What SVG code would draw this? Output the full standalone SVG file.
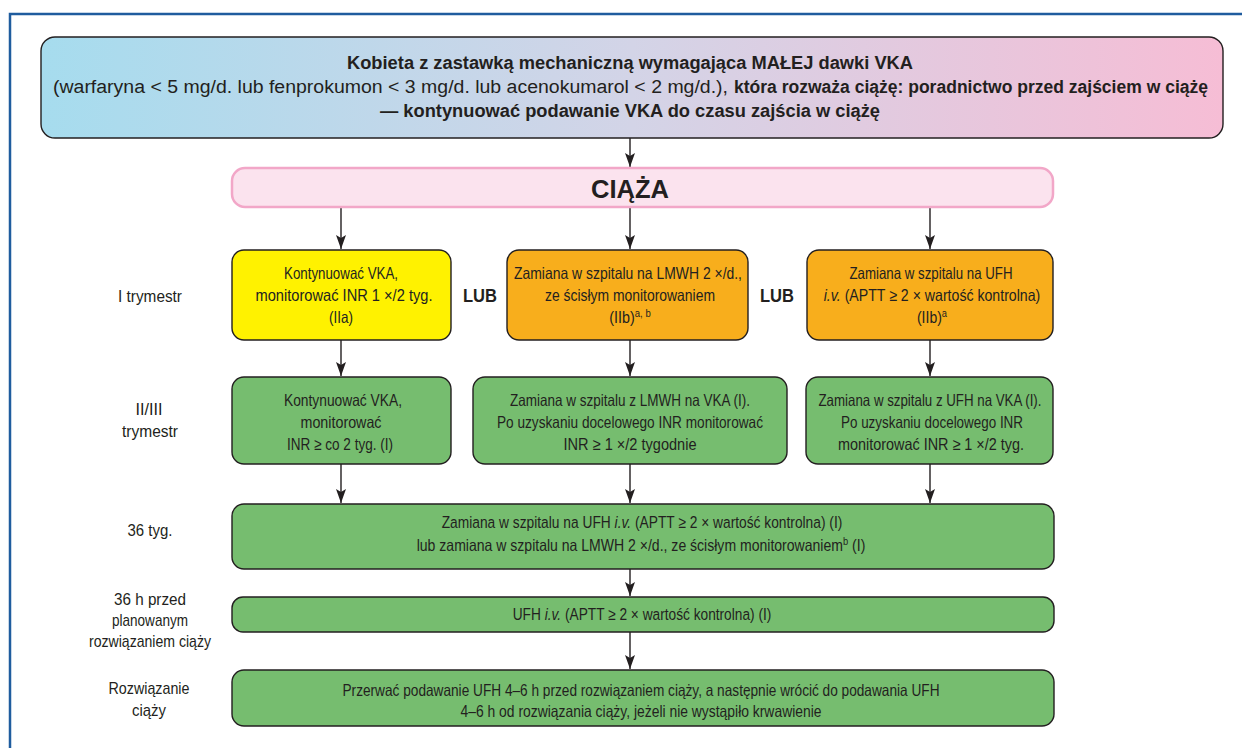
<svg xmlns="http://www.w3.org/2000/svg" width="1242" height="748" viewBox="0 0 1242 748">
<style>
text{font-family:"Liberation Sans",Arial,sans-serif;fill:#231f20}
.t{font-size:16.5px;text-anchor:middle}
.s{font-size:16.5px;text-anchor:middle}
.it{font-style:italic}
.lab{font-size:17px;text-anchor:middle}
.hd{font-size:18px}
.b{font-weight:bold}
.box{stroke:#231f20;stroke-width:1.4}
.yel{fill:#fff200}
.ora{fill:#f8ae1c}
.grn{fill:#76bd6f}
.con line{stroke:#231f20;stroke-width:1.4;marker-end:url(#ah)}
.sup{font-size:11px}
</style>
<defs>
<linearGradient id="gTop" x1="0" y1="0" x2="1" y2="0">
<stop offset="0" stop-color="#a6dcee"/>
<stop offset="0.5" stop-color="#d3d4e7"/>
<stop offset="1" stop-color="#f6bdd5"/>
</linearGradient>
<marker id="ah" viewBox="0 0 14 10" refX="14" refY="5" markerWidth="14" markerHeight="10" markerUnits="userSpaceOnUse" orient="auto">
<path d="M0,0 L14,5 L0,10 L3,5 z" fill="#231f20"/>
</marker>
</defs>
<rect width="1242" height="748" fill="#ffffff"/>
<path d="M10,748 V14 H1242" fill="none" stroke="#1f5c9e" stroke-width="2.5"/>

<g id="connectors" class="con">
<line x1="630" y1="138" x2="630" y2="167"/>
<line x1="341" y1="207" x2="341" y2="249"/>
<line x1="630" y1="207" x2="630" y2="249"/>
<line x1="930" y1="207" x2="930" y2="249"/>
<line x1="341" y1="340" x2="341" y2="376"/>
<line x1="630" y1="340" x2="630" y2="376"/>
<line x1="930" y1="340" x2="930" y2="376"/>
<line x1="341" y1="464" x2="341" y2="503"/>
<line x1="630" y1="464" x2="630" y2="503"/>
<line x1="930" y1="464" x2="930" y2="503"/>
<line x1="630" y1="569" x2="630" y2="596"/>
<line x1="630" y1="632" x2="630" y2="669"/>
</g>

<g id="top">
<rect x="41" y="37" width="1182" height="101" rx="14" fill="url(#gTop)" class="box"/>
<text class="hd b" x="630" y="69" text-anchor="middle" textLength="566" lengthAdjust="spacingAndGlyphs">Kobieta z zastawką mechaniczną wymagająca MAŁEJ dawki VKA</text>
<text class="hd" x="53" y="93" textLength="675" lengthAdjust="spacingAndGlyphs">(warfaryna &lt; 5 mg/d. lub fenprokumon &lt; 3 mg/d. lub acenokumarol &lt; 2 mg/d.),</text>
<text class="hd b" x="734" y="93" textLength="474" lengthAdjust="spacingAndGlyphs">która rozważa ciążę: poradnictwo przed zajściem w ciążę</text>
<text class="hd b" x="630" y="117" text-anchor="middle" textLength="500" lengthAdjust="spacingAndGlyphs">— kontynuować podawanie VKA do czasu zajścia w ciążę</text>
</g>

<g id="ciaza">
<rect x="232" y="168" width="821" height="39" rx="13" fill="#fbe3ee" stroke="#f2a7c8" stroke-width="2.5"/>
<text x="630" y="198" text-anchor="middle" font-size="26" font-weight="bold" textLength="78" lengthAdjust="spacingAndGlyphs">CIĄŻA</text>
</g>

<g id="labels">
<text class="lab" x="150" y="302" textLength="64" lengthAdjust="spacingAndGlyphs">I trymestr</text>
<text class="lab" x="149" y="415" textLength="27" lengthAdjust="spacingAndGlyphs">II/III</text>
<text class="lab" x="150" y="437" textLength="56" lengthAdjust="spacingAndGlyphs">trymestr</text>
<text class="lab" x="150" y="536" textLength="45" lengthAdjust="spacingAndGlyphs">36 tyg.</text>
<text class="lab" x="150" y="605" textLength="72" lengthAdjust="spacingAndGlyphs">36 h przed</text>
<text class="lab" x="150" y="626" textLength="76" lengthAdjust="spacingAndGlyphs">planowanym</text>
<text class="lab" x="150" y="647" textLength="122" lengthAdjust="spacingAndGlyphs">rozwiązaniem ciąży</text>
<text class="lab" x="149" y="694" textLength="81" lengthAdjust="spacingAndGlyphs">Rozwiązanie</text>
<text class="lab" x="149" y="716" textLength="34" lengthAdjust="spacingAndGlyphs">ciąży</text>
<text x="480" y="302" text-anchor="middle" font-size="18" font-weight="bold" textLength="34" lengthAdjust="spacingAndGlyphs">LUB</text>
<text x="777" y="302" text-anchor="middle" font-size="18" font-weight="bold" textLength="34" lengthAdjust="spacingAndGlyphs">LUB</text>
</g>

<g id="r1a">
<rect x="232" y="250" width="219" height="90" rx="12" class="box yel"/>
<text class="t" x="341" y="279" textLength="114" lengthAdjust="spacingAndGlyphs">Kontynuować VKA,</text>
<text class="t" x="344" y="301" textLength="177" lengthAdjust="spacingAndGlyphs">monitorować INR 1 ×/2 tyg.</text>
<text class="t" x="341" y="323" textLength="24" lengthAdjust="spacingAndGlyphs">(IIa)</text>
</g>

<g id="r1b">
<rect x="507" y="250" width="241" height="90" rx="12" class="box ora"/>
<text class="t" x="628" y="279" textLength="228" lengthAdjust="spacingAndGlyphs">Zamiana w szpitalu na LMWH 2 ×/d.,</text>
<text class="t" x="630" y="301" textLength="170" lengthAdjust="spacingAndGlyphs">ze ścisłym monitorowaniem</text>
<text class="s" transform="translate(630,323) scale(0.87,1)">(IIb)<tspan class="sup" dy="-6">a, b</tspan></text>
</g>

<g id="r1c">
<rect x="807" y="250" width="246" height="90" rx="12" class="box ora"/>
<text class="t" x="931" y="279" textLength="163" lengthAdjust="spacingAndGlyphs">Zamiana w szpitalu na UFH</text>
<text class="s" transform="translate(932,301) scale(0.857,1)"><tspan class="it">i.v.</tspan> (APTT ≥ 2 × wartość kontrolna)</text>
<text class="s" transform="translate(932,323) scale(0.85,1)">(IIb)<tspan class="sup" dy="-6">a</tspan></text>
</g>

<g id="r2a">
<rect x="232" y="377" width="219" height="87" rx="12" class="box grn"/>
<text class="t" x="343" y="406" textLength="118" lengthAdjust="spacingAndGlyphs">Kontynuować VKA,</text>
<text class="t" x="341" y="428" textLength="81" lengthAdjust="spacingAndGlyphs">monitorować</text>
<text class="t" x="340" y="450" textLength="106" lengthAdjust="spacingAndGlyphs">INR ≥ co 2 tyg. (I)</text>
</g>

<g id="r2b">
<rect x="473" y="377" width="314" height="87" rx="12" class="box grn"/>
<text class="t" x="630" y="406" textLength="240" lengthAdjust="spacingAndGlyphs">Zamiana w szpitalu z LMWH na VKA (I).</text>
<text class="t" x="630" y="428" textLength="266" lengthAdjust="spacingAndGlyphs">Po uzyskaniu docelowego INR monitorować</text>
<text class="t" x="630" y="450" textLength="133" lengthAdjust="spacingAndGlyphs">INR ≥ 1 ×/2 tygodnie</text>
</g>

<g id="r2c">
<rect x="806" y="377" width="247" height="87" rx="12" class="box grn"/>
<text class="t" x="930" y="406" textLength="223" lengthAdjust="spacingAndGlyphs">Zamiana w szpitalu z UFH na VKA (I).</text>
<text class="t" x="932" y="428" textLength="182" lengthAdjust="spacingAndGlyphs">Po uzyskaniu docelowego INR</text>
<text class="t" x="931" y="450" textLength="186" lengthAdjust="spacingAndGlyphs">monitorować INR ≥ 1 ×/2 tyg.</text>
</g>

<g id="r3">
<rect x="232" y="504" width="822" height="65" rx="12" class="box grn"/>
<text class="s" transform="translate(642,528) scale(0.835,1)">Zamiana w szpitalu na UFH <tspan class="it">i.v.</tspan> (APTT ≥ 2 × wartość kontrolna) (I)</text>
<text class="s" transform="translate(641,551) scale(0.851,1)">lub zamiana w szpitalu na LMWH 2 ×/d., ze ścisłym monitorowaniem<tspan class="sup" dy="-6">b</tspan><tspan dy="6"> (I)</tspan></text>
</g>

<g id="r4">
<rect x="232" y="597" width="822" height="35" rx="11" class="box grn"/>
<text class="s" transform="translate(642,620) scale(0.831,1)">UFH <tspan class="it">i.v.</tspan> (APTT ≥ 2 × wartość kontrolna) (I)</text>
</g>

<g id="r5">
<rect x="232" y="670" width="822" height="56" rx="12" class="box grn"/>
<text class="t" x="641" y="696" textLength="597" lengthAdjust="spacingAndGlyphs">Przerwać podawanie UFH 4–6 h przed rozwiązaniem ciąży, a następnie wrócić do podawania UFH</text>
<text class="t" x="641" y="717" textLength="361" lengthAdjust="spacingAndGlyphs">4–6 h od rozwiązania ciąży, jeżeli nie wystąpiło krwawienie</text>
</g>
</svg>
